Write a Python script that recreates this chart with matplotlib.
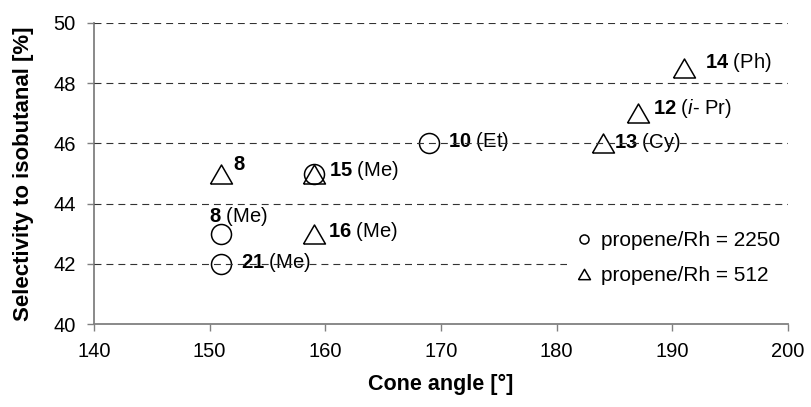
import matplotlib
matplotlib.use("Agg")
import matplotlib.pyplot as plt
from matplotlib.lines import Line2D

plt.rcParams.update({
    "font.family": ["Liberation Sans", "DejaVu Sans"],
    "mathtext.fontset": "custom",
    "mathtext.rm": "Liberation Sans",
    "mathtext.bf": "Liberation Sans:bold",
    "mathtext.it": "Liberation Sans:italic",
    "lines.scale_dashes": False,
})

# ── data ──────────────────────────────────────────────────────────────────────
# propene/Rh = 2250 (circles)
circ_angle = [151, 151, 159, 169]
circ_sel = [43, 42, 45, 46]
circ_labels = [r"$\mathbf{8}$ (Me)", r"$\mathbf{21}$ (Me)",
               r"$\mathbf{15}$ (Me)", r"$\mathbf{10}$ (Et)"]

# propene/Rh = 512 (triangles)
tri_angle = [151, 159, 159, 184, 187, 191]
tri_sel = [45, 45, 43, 46, 47, 48.5]
tri_labels = [r"$\mathbf{8}$", None, r"$\mathbf{16}$ (Me)", r"$\mathbf{13}$ (Cy)",
              r"$\mathbf{12}$ ($\mathit{i}$- Pr)", r"$\mathbf{14}$ (Ph)"]

x_ticks = [140, 150, 160, 170, 180, 190, 200]
y_ticks = [40, 42, 44, 46, 48, 50]

# label offsets (points) relative to each marker
circ_offsets = [(-8.6, 12.2), (14.4, 0.7), (10.8, 2.2), (13.7, 1.4)]
tri_offsets = [(8.6, 6.2), None, (10.0, 1.4), (8.0, 0.7), (10.8, 3.6), (15.0, 4.3)]

# equilateral triangle, centred
TRI = [(-1, -0.866), (1, -0.866), (0, 0.866), (-1, -0.866)]

fig = plt.figure(figsize=(8.11, 4.07), dpi=100)
ax = fig.add_axes([94 / 811, 1 - 324 / 407, 694 / 811, 301 / 407])

ax.plot(circ_angle, circ_sel, ls="none", marker="o", ms=14.4, mfc="none",
        mec="black", mew=1.1, zorder=3)
ax.plot(tri_angle, tri_sel, ls="none", marker=TRI, ms=15.8, mfc="none",
        mec="black", mew=1.1, zorder=3)

for x, y, lab, off in zip(circ_angle, circ_sel, circ_labels, circ_offsets):
    ax.annotate(lab, (x, y), xytext=off, textcoords="offset points",
                ha="left", va="center", fontsize=14.5, zorder=3)
for x, y, lab, off in zip(tri_angle, tri_sel, tri_labels, tri_offsets):
    if lab is None:
        continue
    ax.annotate(lab, (x, y), xytext=off, textcoords="offset points",
                ha="left", va="center", fontsize=14.5, zorder=3)

# dashed gridlines drawn over the markers, as in the original
for yv in y_ticks[1:]:
    ax.axhline(yv, color="#333333", lw=0.8, ls=(0, (5, 3.6)), zorder=4)

ax.set_xlim(140, 200)
ax.set_ylim(40, 50)
ax.set_xticks(x_ticks)
ax.set_yticks(y_ticks)
ax.tick_params(direction="out", length=5, width=1.0, color="#808080",
               labelsize=14.5, pad=8)
for side in ("top", "right"):
    ax.spines[side].set_visible(False)
for side in ("left", "bottom"):
    ax.spines[side].set_color("#808080")
    ax.spines[side].set_linewidth(1.3)

ax.set_xlabel("Cone angle [°]", fontweight="bold", fontsize=15.5, labelpad=9)
ax.set_ylabel("Selectivity to isobutanal [%]", fontweight="bold", fontsize=16,
              labelpad=14)

handles = [
    Line2D([], [], ls="none", marker="o", ms=6.5, mfc="none", mec="black", mew=1.1),
    Line2D([], [], ls="none", marker=TRI, ms=8.6, mfc="none", mec="black", mew=1.1),
]
leg = ax.legend(handles, ["propene/Rh = 2250", "propene/Rh = 512"],
                loc="upper left", bbox_to_anchor=(0.667, 0.37), frameon=True,
                facecolor="white", edgecolor="none", framealpha=1,
                fancybox=False, fontsize=15, handlelength=0.8,
                handletextpad=0.4, labelspacing=0.75, borderpad=0.4)
leg.set_zorder(6)

fig.savefig("out.png", dpi=100)
